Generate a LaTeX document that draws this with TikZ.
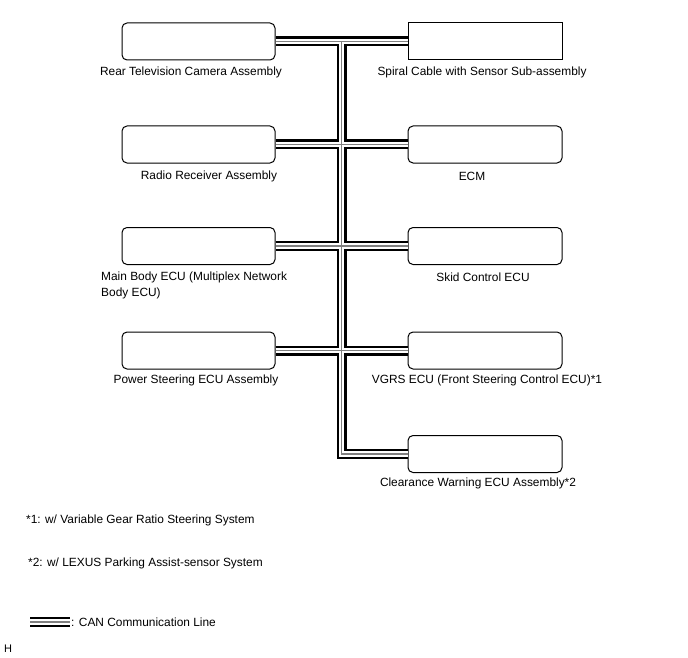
\documentclass[tikz,border=0pt]{standalone}
\usepackage{fontspec}
\setmainfont{Liberation Sans}
\usetikzlibrary{positioning}

\begin{document}
\begin{tikzpicture}[
  x=1pt, y=-1pt,
  font=\fontsize{11.9}{16}\selectfont,
  ecu/.style={draw, line width=1pt, rounded corners=5pt, minimum width=153pt, minimum height=37pt},
  sensorbox/.style={draw, line width=1pt, minimum width=154pt, minimum height=37pt},
  lbl/.style={inner sep=0pt}
]
\useasboundingbox (0,0) rectangle (688,658);
% units
\node[ecu] (rtv) at (198.5,41.5) {};
\node[ecu] (radio) at (198.5,144.5) {};
\node[ecu] (mbe) at (198.5,246) {};
\node[ecu] (pse) at (198.5,350.5) {};
\node[sensorbox] (spiral) at (485,41.5) {};
\node[ecu, minimum width=154pt] (ecm) at (485,144.5) {};
\node[ecu, minimum width=154pt] (skid) at (485,246) {};
\node[ecu, minimum width=154pt] (vgrs) at (485,350.5) {};
\node[ecu, minimum width=154pt] (cwe) at (485,454) {};
% labels
\node[lbl] (rtvl) at (191,72.5) {Rear Television Camera Assembly};
\node[lbl] (radiol) at (209,176.5) {Radio Receiver Assembly};
\node[lbl, anchor=west, align=left] (mbel) at (101,285.5) {Main Body ECU (Multiplex Network\\Body ECU)};
\node[lbl] (psel) at (196,380.5) {Power Steering ECU Assembly};
\node[lbl] (spirall) at (482,72.5) {Spiral Cable with Sensor Sub-assembly};
\node[lbl] (ecml) at (472,176.5) {ECM};
\node[lbl] (skidl) at (483,277.5) {Skid Control ECU};
\node[lbl] (vgrsl) at (487,380.5) {VGRS ECU (Front Steering Control ECU)*1};
\node[lbl] (cwel) at (478,483.5) {Clearance Warning ECU Assembly*2};
% notes
\node[lbl, anchor=west] (note1) at (26,520) {*1: w/ Variable Gear Ratio Steering System};
\node[lbl, anchor=west] (note2) at (28,563) {*2: w/ LEXUS Parking Assist-sensor System};
\coordinate (lgA) at (30,622);
\coordinate (lgB) at (70,622);
\node[lbl, anchor=west] (lgtxt) at (71,622) {: CAN Communication Line};
\node[lbl, anchor=west, font=\fontsize{11}{13}\selectfont] (hmark) at (4,649) {H};
% CAN bus
\coordinate (t1) at (341.5,41.5);
\foreach \w/\c in {10pt/black,5.6pt/white,1.3pt/gray}{
  \draw[line width=\w, draw=\c]
    (rtv.east) -- (spiral.west)
    (radio.east) -- (ecm.west)
    (mbe.east) -- (skid.west)
    (pse.east) -- (vgrs.west)
    (t1) |- (cwe.west)
    (lgA) -- (lgB);
}
\end{tikzpicture}
\end{document}
